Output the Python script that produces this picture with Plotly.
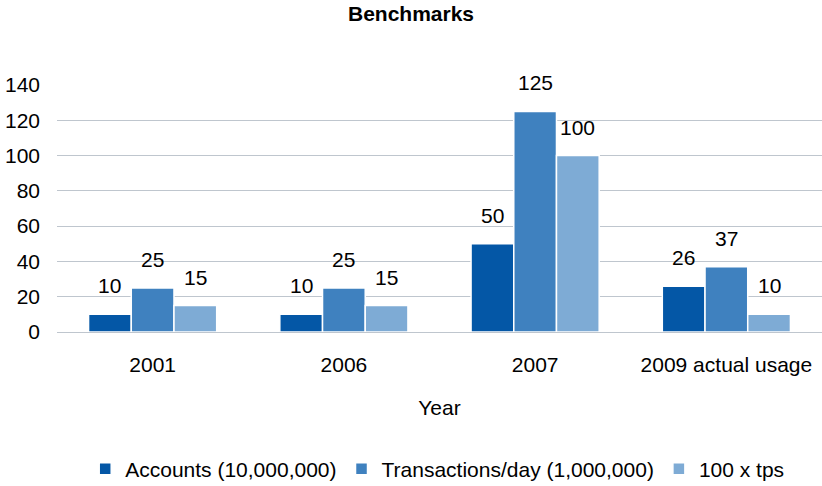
import plotly.graph_objects as go

categories = ["2001", "2006", "2007", "2009 actual usage"]
accounts = [10, 10, 50, 26]
transactions = [25, 25, 125, 37]
tps = [15, 15, 100, 10]

series_names = ["Accounts (10,000,000)", "Transactions/day (1,000,000)", "100 x tps"]
colors = ["#0457A6", "#3F81BF", "#7EABD5"]
font_family = "Liberation Sans, Arial, sans-serif"

bargap = 0.33
series = [accounts, transactions, tps]
nser = len(series)
bar_w = (1 - bargap) / nser

fig = go.Figure()
for name, vals, col in zip(series_names, series, colors):
    fig.add_trace(go.Bar(
        x=categories, y=vals, name=name,
        marker=dict(color=col, line=dict(color="white", width=1.5)),
    ))

# data labels above bars
for si, vals in enumerate(series):
    for ci, v in enumerate(vals):
        fig.add_annotation(
            x=ci + (si - (nser - 1) / 2) * bar_w, y=v, xref="x", yref="y",
            text=str(v), showarrow=False, yanchor="bottom", yshift=15,
            font=dict(size=21, color="black", family=font_family),
        )

fig.update_layout(
    width=822, height=486,
    margin=dict(l=57, r=0, t=85, b=154, autoexpand=False),
    paper_bgcolor="white", plot_bgcolor="white",
    barmode="group", bargap=bargap, bargroupgap=0,
    font=dict(family=font_family, size=21, color="black"),
    title=dict(text="<b>Benchmarks</b>", x=0.5, xanchor="center", y=0.972, yanchor="middle",
               font=dict(size=21, family=font_family)),
    showlegend=True,
    legend=dict(orientation="h", x=0.497, xanchor="center", yref="container", y=0.035,
                yanchor="middle", font=dict(size=21), itemwidth=30, tracegroupgap=0),
)
fig.update_yaxes(range=[0, 140], dtick=20, showgrid=True, gridcolor="#BFC6CE", gridwidth=1,
                 zeroline=True, zerolinecolor="#BFC6CE", zerolinewidth=1,
                 showline=False, ticks="", tickfont=dict(size=21), ticklabelstandoff=16,
                 automargin=False)
fig.update_xaxes(showline=False, ticks="", tickfont=dict(size=21), ticklabelstandoff=18,
                 title=dict(text="Year", font=dict(size=21), standoff=25), automargin=False)

fig.write_html("out.html", config={"displayModeBar": False},
               post_script="document.body.style.margin='0px';")
